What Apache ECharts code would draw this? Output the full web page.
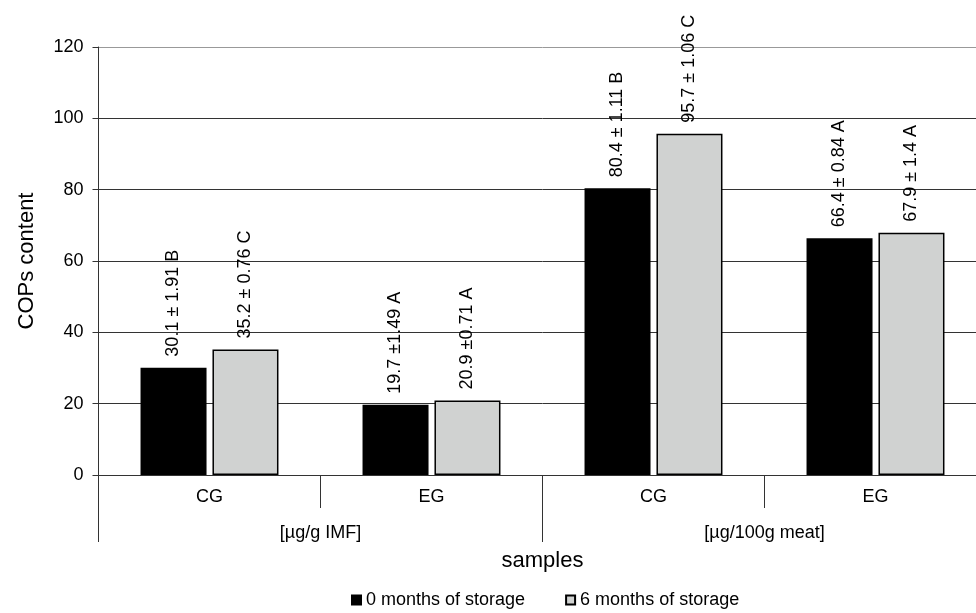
<!DOCTYPE html>
<html>
<head>
<meta charset="utf-8">
<script src="https://cdn.jsdelivr.net/npm/echarts@6/dist/echarts.min.js"></script>
<style>
html,body{margin:0;padding:0;background:#fff;overflow:hidden;width:976px;height:613px;}
#chart{width:1000px;height:613px;}
</style>
</head>
<body>
<div id="chart"></div>
<script>
const categories = ['CG', 'EG', 'CG', 'EG'];
const groups = ['[µg/g IMF]', '[µg/100g meat]'];
const seriesNames = ['0 months of storage', '6 months of storage'];
const values0 = [30.1, 19.7, 80.4, 66.4];
const values6 = [35.2, 20.9, 95.7, 67.9];
const labels0 = ['30.1 ± 1.91 B', '19.7 ±1.49 A', '80.4 ± 1.11 B', '66.4 ± 0.84 A'];
const labels6 = ['35.2 ± 0.76 C', '20.9 ±0.71 A', '95.7 ± 1.06 C', '67.9 ± 1.4 A'];
const yTicks = [0, 20, 40, 60, 80, 100, 120];

const FONT = 'Liberation Sans, Arial, sans-serif';
const chart = echarts.init(document.getElementById('chart'), null, {renderer: 'canvas'});

function barLabel(arr) {
  return {
    show: true,
    position: 'top',
    distance: 11,
    rotate: 90,
    align: 'left',
    verticalAlign: 'middle',
    color: '#000',
    fontSize: 18,
    fontFamily: FONT,
    formatter: p => arr[p.dataIndex]
  };
}

chart.setOption({
  animation: false,
  backgroundColor: '#fff',
  textStyle: {fontFamily: FONT},
  grid: {left: 98.5, top: 47, width: 888, bottom: 138, containLabel: false},
  legend: {
    data: seriesNames,
    left: 351,
    top: 591,
    padding: 0,
    itemWidth: 9,
    itemHeight: 9,
    itemGap: 40,
    icon: 'rect',
    textStyle: {fontSize: 18, color: '#000', fontFamily: FONT}
  },
  xAxis: [
    {
      type: 'category',
      position: 'bottom',
      data: categories,
      axisLine: {show: true, lineStyle: {color: '#333', width: 1}},
      axisTick: {show: true, interval: 0, length: 33, lineStyle: {color: '#333'}},
      axisLabel: {fontSize: 18, color: '#000', margin: 13, fontFamily: FONT},
      name: 'samples',
      nameLocation: 'middle',
      nameGap: 75,
      nameTextStyle: {fontSize: 22, color: '#000', fontFamily: FONT}
    },
    {
      type: 'category',
      position: 'bottom',
      data: groups,
      axisLine: {show: false},
      axisTick: {show: true, interval: 0, length: 67, lineStyle: {color: '#333'}},
      axisLabel: {fontSize: 18, color: '#000', margin: 49, fontFamily: FONT}
    }
  ],
  yAxis: {
    type: 'value',
    min: yTicks[0],
    max: yTicks[yTicks.length - 1],
    interval: 20,
    axisLine: {show: true, lineStyle: {color: '#333'}},
    axisTick: {show: true, length: 6, lineStyle: {color: '#333'}},
    axisLabel: {fontSize: 18, color: '#000', margin: 15, fontFamily: FONT},
    splitLine: {show: true, lineStyle: {color: ['#333', '#333', '#333', '#333', '#333', '#333', '#999'], width: 1}},
    name: 'COPs content',
    nameLocation: 'middle',
    nameGap: 61,
    nameTextStyle: {fontSize: 22, color: '#000', fontFamily: FONT}
  },
  series: [
    {
      name: seriesNames[0],
      type: 'bar',
      xAxisIndex: 0,
      data: values0,
      barWidth: 66,
      barGap: '9%',
      itemStyle: {color: '#000', borderColor: '#000', borderWidth: 1.5},
      label: barLabel(labels0)
    },
    {
      name: seriesNames[1],
      type: 'bar',
      xAxisIndex: 0,
      data: values6,
      barWidth: 66,
      barGap: '9%',
      itemStyle: {color: '#d0d2d1', borderColor: '#000', borderWidth: 1.5},
      label: barLabel(labels6)
    }
  ]
});
</script>
</body>
</html>
